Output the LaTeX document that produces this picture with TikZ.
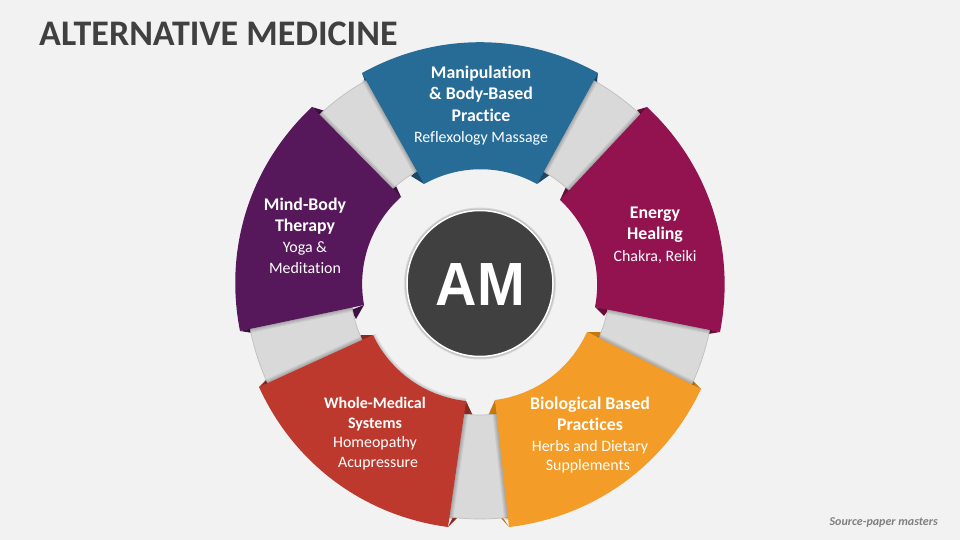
\documentclass[tikz,border=0pt]{standalone}
\usepackage{fontspec}
\setmainfont[Ligatures=NoCommon]{Carlito}
\newfontfamily\amfont{Liberation Sans}
\definecolor{bgc}{HTML}{F2F2F2}
\definecolor{bandc}{HTML}{D9D9D9}
\definecolor{bandl}{HTML}{BFBFBF}
\definecolor{darkc}{HTML}{404040}
\definecolor{bluec}{HTML}{266C96}
\definecolor{blued}{HTML}{1A4A68}
\definecolor{purplec}{HTML}{56185A}
\definecolor{purpled}{HTML}{3C1040}
\definecolor{magc}{HTML}{921350}
\definecolor{magd}{HTML}{690D39}
\definecolor{redc}{HTML}{BD392E}
\definecolor{redd}{HTML}{8A2920}
\definecolor{orangec}{HTML}{F39C27}
\definecolor{oranged}{HTML}{C47A0C}
\tikzset{
  label/.style={text=white,align=center,inner sep=0pt,font=\bfseries\fontsize{17.8}{21.3}\selectfont},
  band/.style={fill=bandc,draw=bandl,line width=.7pt},
}
\newcommand{\Sub}{\normalfont\fontsize{15.9}{20}\selectfont}
\newcommand{\Wh}{\fontsize{16}{19}\selectfont}
% band: start angle, end angle (clockwise on screen)
\newcommand{\Band}[2]{%
  \draw[band] plot[domain=#1:#2,samples=24] ({480+234*cos(\x)},{285+234*sin(\x)})
     -- plot[domain=#2:#1,samples=24] ({480+130*cos(\x)},{285+130*sin(\x)}) -- cycle;}
% shadow of a segment, kept on the bands
\newcommand{\SegShadow}[4]{%
  \begin{scope}[even odd rule]
    \clip (480,285) circle[radius=236] (480,285) circle[radius=129];
    \foreach \w in {8,6,4,2}{
      \draw[black,opacity=.06,line width=\w pt,line join=round]
        (#1) to[bend left=29,looseness=.92] (#2) -- (#3) to[bend right=29,looseness=.92] (#4) -- cycle;}
  \end{scope}}
\newcommand{\SegFill}[5]{%
  \fill[#1] (#2) to[bend left=29,looseness=.92] (#3) -- (#4) to[bend right=29,looseness=.92] (#5) -- cycle;}
\begin{document}
\begin{tikzpicture}[x=1pt,y=-1pt]
\useasboundingbox (0,0) rectangle (960,540);
\fill[bgc] (0,0) rectangle (960,540);
% fold flaps
\fill[blued] (362,73)--(368,80)--(366,84)--cycle;
\fill[blued] (598,73)--(590,84)--(596,90)--cycle;
\fill[blued] (424,184)--(411,176)--(418,170)--cycle;
\fill[blued] (537,184)--(551,174)--(544,170)--cycle;
\fill[purpled] (312,107)--(325,111)--(320,116)--cycle;
\fill[purpled] (401,197)--(396,186)--(390,190)--cycle;
\fill[purpled] (364,305)--(351,310)--(356,319)--cycle;
\fill[purpled] (240,331)--(252,328)--(253,333)--cycle;
\fill[magd] (647,107)--(637,110)--(642,116)--cycle;
\fill[magd] (560,200)--(566,187)--(572,192)--cycle;
\fill[magd] (595,307)--(609,309)--(604,316)--cycle;
\fill[magd] (720,332)--(709,329)--(708,334)--cycle;
\fill[redd] (373,335)--(360,335)--(362,343)--cycle;
\fill[redd] (259,387)--(267,379)--(270,385)--cycle;
\fill[redd] (466,401)--(473,416)--(462,417)--cycle;
\fill[redd] (448,527)--(453,517)--(458,517)--cycle;
\fill[oranged] (587,332)--(602,332)--(600,339)--cycle;
\fill[oranged] (701,389)--(693,381)--(690,387)--cycle;
\fill[oranged] (495,400)--(488,416)--(498,416)--cycle;
\fill[oranged] (509,527)--(503,518)--(499,516)--cycle;
% bands
\Band{-134}{-115}
\Band{-65}{-46}
\Band{10}{27}
\Band{81}{99}
\Band{153}{171}
% shadows
\SegShadow{362,73}{598,73}{537,184}{424,184}
\SegShadow{647,107}{720,332}{595,307}{560,200}
\SegShadow{701,389}{509,527}{495,400}{587,332}
\SegShadow{448,527}{259,387}{373,335}{466,401}
\SegShadow{240,331}{312,107}{401,197}{364,305}
% soft shadow under the inner edge of the red segment
\foreach \w in {6,4,2}{
  \draw[black,opacity=.06,line width=\w pt] (373,335) to[bend right=29,looseness=.92] (466,401);}
% segments
\SegFill{bluec}{362,73}{598,73}{537,184}{424,184}
\SegFill{magc}{647,107}{720,332}{595,307}{560,200}
\SegFill{orangec}{701,389}{509,527}{495,400}{587,332}
\SegFill{redc}{448,527}{259,387}{373,335}{466,401}
\SegFill{purplec}{240,331}{312,107}{401,197}{364,305}
% centre
\foreach \w in {5,3}{\draw[black,opacity=.1,line width=\w pt] (480,283.5) circle[radius=73.5];}
\node[circle,fill=darkc,draw=white,line width=1.5pt,minimum size=146pt,inner sep=0pt] (am) at (480,283.5) {};
\node[text=white,inner sep=0pt,xscale=.94,font=\amfont\bfseries\fontsize{61}{61}\selectfont] (amt) at (480.5,284.5) {AM};
% texts
\node[inner sep=0pt,anchor=west,text=darkc,font=\bfseries\fontsize{36}{36}\selectfont] (title) at (39,33.5) {ALTERNATIVE MEDICINE};
\node[inner sep=0pt,anchor=east,text=black!50,font=\bfseries\itshape\fontsize{12}{12}\selectfont] (src) at (938,523) {Source-paper masters};
\node[label] (t1) at (481,105.5) {Manipulation\\\& Body-Based\\Practice\\\Sub Reflexology Massage};
\node[label] (t2) at (305,235.5) {Mind-Body\\Therapy\\\Sub Yoga \&\\[-1pt]\Sub Meditation};
\node[label] (t3) at (655,235) {Energy\\Healing\\\Sub Chakra, Reiki};
\node[label] (t4) at (375,434) {\Wh Whole-Medical\\[-2pt]\Wh Systems\\[-2pt]\Sub Homeopathy\\[-1pt]\Sub\hspace*{6pt}Acupressure};
\node[label] (t5) at (590,435) {Biological Based\\Practices\\\Sub Herbs and Dietary\\[-2pt]\Sub Supplements\hspace*{4pt}};
\end{tikzpicture}
\end{document}
